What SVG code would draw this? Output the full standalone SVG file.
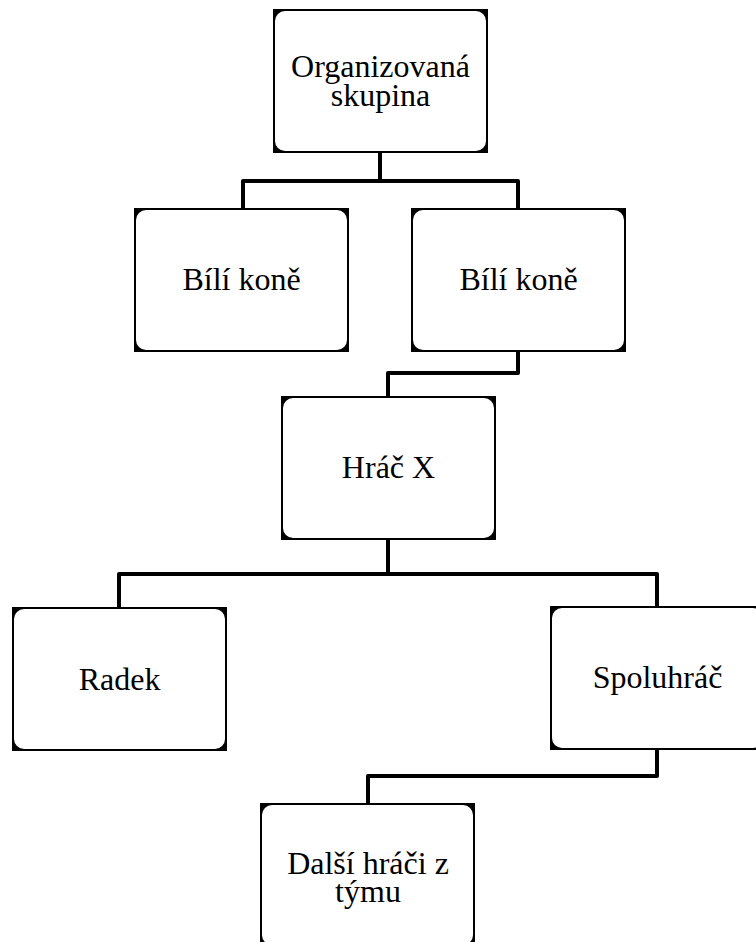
<svg xmlns="http://www.w3.org/2000/svg" width="756" height="942" viewBox="0 0 756 942">
  <style>
    .frame { fill: #000; }
    .face { fill: #fff; }
    .label { font-family: 'Liberation Serif', 'Times New Roman', serif; font-size: 32px; fill: #000; text-anchor: middle; }
    .link { fill: none; stroke: #000; stroke-width: 4; stroke-linejoin: round; stroke-linecap: butt; }
  </style>
  <defs>
    <!-- box: black square frame with a rounded white face inside -->
    <g id="box">
      <rect class="frame" x="0" y="0" width="215" height="144"/>
      <rect class="face" x="2" y="2" width="211" height="140" rx="10" ry="10"/>
    </g>
  </defs>

  <rect x="0" y="0" width="756" height="942" fill="#fff"/>

  <g id="connectors">
    <path class="link" d="M380,153 V181 M243,208 V181 H518 V208"/>
    <path class="link" d="M518,352 V373 H388 V396"/>
    <path class="link" d="M388,540 V574 M119,607 V574 H657 V607"/>
    <path class="link" d="M657,750 V776 H368 V803"/>
  </g>

  <g id="node-organizovana-skupina">
    <use href="#box" x="273" y="9"/>
    <text class="label" x="380.5" y="77">Organizovaná</text>
    <text class="label" x="380.5" y="106">skupina</text>
  </g>

  <g id="node-bili-kone-1">
    <use href="#box" x="134" y="208"/>
    <text class="label" x="241.5" y="290">Bílí koně</text>
  </g>

  <g id="node-bili-kone-2">
    <use href="#box" x="411" y="208"/>
    <text class="label" x="518.5" y="290">Bílí koně</text>
  </g>

  <g id="node-hrac-x">
    <use href="#box" x="281" y="396"/>
    <text class="label" x="388.5" y="478">Hráč X</text>
  </g>

  <g id="node-radek">
    <use href="#box" x="12" y="607"/>
    <text class="label" x="119.5" y="690">Radek</text>
  </g>

  <g id="node-spoluhrac">
    <use href="#box" x="550" y="606"/>
    <text class="label" x="657.5" y="688">Spoluhráč</text>
  </g>

  <g id="node-dalsi-hraci">
    <use href="#box" x="260" y="803"/>
    <text class="label" x="368" y="874">Další hráči z</text>
    <text class="label" x="368" y="902">týmu</text>
  </g>
</svg>
